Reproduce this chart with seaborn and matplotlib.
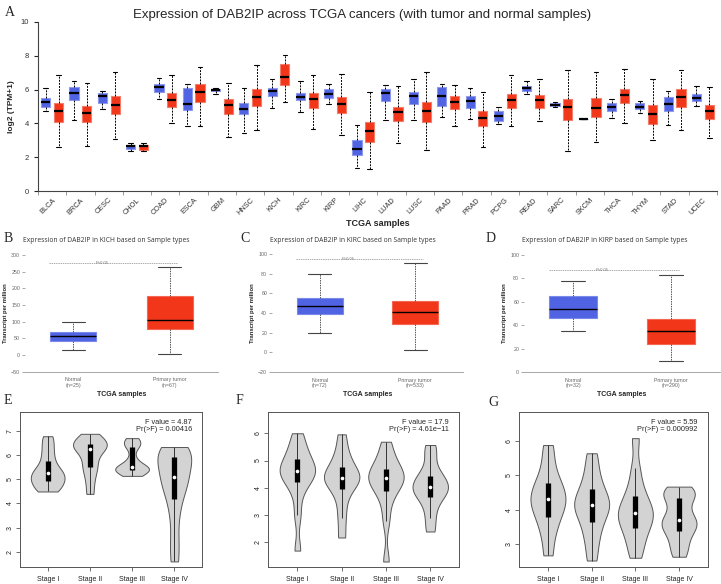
import numpy as np
import pandas as pd
import matplotlib.pyplot as plt
import seaborn as sns

# ---------------- Panel A data: [min, q1, median, q3, max] (log2 TPM+1)
cancers = ["BLCA", "BRCA", "CESC", "CHOL", "COAD", "ESCA", "GBM", "HNSC",
           "KICH", "KIRC", "KIRP", "LIHC", "LUAD", "LUSC", "PAAD", "PRAD",
           "PCPG", "READ", "SARC", "SKCM", "THCA", "THYM", "STAD", "UCEC"]
normal_stats = [
    [4.71, 4.97, 5.27, 5.52, 6.09], [4.22, 5.36, 5.82, 6.15, 6.53],
    [4.87, 5.23, 5.62, 5.80, 5.92], [2.35, 2.47, 2.68, 2.74, 2.84],
    [5.46, 5.86, 6.15, 6.35, 6.67], [3.83, 4.77, 5.13, 6.11, 6.31],
    [5.76, 5.90, 5.96, 6.02, 6.09], [3.43, 4.58, 4.85, 5.19, 6.09],
    [4.89, 5.62, 5.90, 6.09, 6.63], [4.65, 5.36, 5.58, 5.82, 6.51],
    [5.17, 5.52, 5.76, 6.06, 6.33], [1.38, 2.13, 2.50, 3.00, 3.89],
    [4.18, 5.35, 5.80, 6.02, 6.29], [4.22, 5.17, 5.60, 5.86, 6.65],
    [4.40, 5.03, 5.64, 6.13, 6.31], [4.24, 4.93, 5.33, 5.64, 6.09],
    [3.98, 4.14, 4.42, 4.73, 4.97], [5.74, 5.92, 6.07, 6.19, 6.51],
    [4.97, 5.03, 5.11, 5.21, 5.25], [4.24, 4.25, 4.26, 4.27, 4.28],
    [4.30, 4.71, 4.99, 5.21, 5.46], [4.64, 4.83, 4.99, 5.19, 5.35],
    [3.89, 4.71, 5.17, 5.58, 5.94], [5.01, 5.33, 5.50, 5.74, 6.23],
]
tumor_stats = [
    [2.60, 4.10, 4.73, 5.21, 6.84], [2.64, 4.10, 4.62, 5.05, 6.41],
    [3.10, 4.58, 5.11, 5.64, 7.04], [2.35, 2.45, 2.64, 2.74, 2.84],
    [4.04, 4.97, 5.38, 5.80, 6.88], [3.87, 5.25, 5.88, 6.31, 7.36],
    [3.18, 4.58, 5.07, 5.44, 6.41], [3.63, 5.01, 5.56, 6.06, 7.48],
    [5.27, 6.27, 6.75, 7.50, 8.03], [3.69, 4.91, 5.42, 5.80, 6.88],
    [3.33, 4.62, 5.17, 5.58, 6.94], [1.28, 2.90, 3.55, 4.08, 5.86],
    [2.82, 4.14, 4.65, 4.99, 6.23], [2.41, 4.08, 4.73, 5.27, 7.02],
    [3.87, 4.85, 5.27, 5.60, 6.29], [2.62, 3.87, 4.32, 4.71, 5.86],
    [3.83, 4.93, 5.38, 5.74, 6.88], [4.12, 4.91, 5.38, 5.70, 6.65],
    [2.35, 4.18, 4.99, 5.46, 7.18], [2.90, 4.38, 4.93, 5.52, 7.02],
    [4.04, 5.23, 5.66, 6.02, 7.24], [3.04, 3.98, 4.56, 5.09, 6.65],
    [3.59, 4.99, 5.56, 6.02, 7.18], [3.14, 4.28, 4.75, 5.07, 6.17],
]

# ---------------- Panels B-D data: [min, q1, median, q3, max] (TPM)
kich_normal = [16, 43, 57, 68, 98]
kich_tumor = [4, 77, 104, 177, 264]
kirc_normal = [19.3, 38.6, 47.1, 55.6, 80]
kirc_tumor = [2.0, 29.2, 40.7, 52.5, 90.4]
kirp_normal = [35.3, 45.9, 53.6, 65.0, 77.8]
kirp_tumor = [9.4, 23.6, 34.8, 45.3, 83.0]
sample_labels = {
    "KICH": ["Normal\n(n=25)", "Primary tumor\n(n=67)"],
    "KIRC": ["Normal\n(n=72)", "Primary tumor\n(n=533)"],
    "KIRP": ["Normal\n(n=32)", "Primary tumor\n(n=290)"],
}

# ---------------- Panels E-G data: expression by stage
stages = ["Stage I", "Stage II", "Stage III", "Stage IV"]
kich_stage = [
    [4.5, 4.6, 4.75, 4.94, 5.0, 5.1, 5.26, 5.35, 5.5, 5.78, 6.1, 6.45, 6.8],
    [4.4, 4.9, 5.3, 5.53, 5.8, 6.05, 6.26, 6.35, 6.42, 6.48, 6.6, 6.75, 6.9],
    [5.15, 5.25, 5.33, 5.4, 5.45, 5.5, 5.53, 5.6, 5.9, 6.34, 6.45, 6.6, 6.72],
    [1.59, 2.5, 3.5, 4.2, 4.6, 4.9, 5.12, 5.4, 5.7, 5.95, 6.1, 6.25, 6.35],
]
kirc_stage = [
    [1.7, 3.0, 3.8, 4.23, 4.4, 4.5, 4.62, 4.7, 4.85, 5.06, 5.3, 5.6, 6.0],
    [2.18, 2.9, 3.5, 3.95, 4.15, 4.27, 4.37, 4.45, 4.6, 4.78, 5.05, 5.4, 5.96],
    [1.3, 2.8, 3.5, 3.9, 4.1, 4.25, 4.35, 4.45, 4.55, 4.69, 4.95, 5.25, 5.69],
    [2.4, 2.9, 3.35, 3.65, 3.8, 3.92, 4.02, 4.15, 4.3, 4.44, 4.7, 5.2, 5.57],
]
kirp_stage = [
    [2.67, 3.2, 3.55, 3.8, 4.0, 4.15, 4.3, 4.42, 4.6, 4.77, 5.0, 5.4, 5.88],
    [2.52, 3.0, 3.35, 3.63, 3.85, 4.0, 4.14, 4.25, 4.4, 4.6, 4.85, 5.2, 5.64],
    [2.6, 2.95, 3.25, 3.47, 3.65, 3.8, 3.9, 4.0, 4.2, 4.4, 4.7, 5.2, 6.08],
    [2.63, 2.9, 3.15, 3.37, 3.5, 3.6, 3.71, 3.85, 4.1, 4.35, 4.45, 4.55, 4.67],
]
f_text = ["F value = 4.87\nPr(>F) = 0.00416",
          "F value = 17.9\nPr(>F) = 4.61e\u221211",
          "F value = 5.59\nPr(>F) = 0.000992"]

BLUE = "#4f63e3"
RED = "#f1361a"

sns.set_style("ticks")
plt.rcParams["font.family"] = ["Liberation Sans", "DejaVu Sans"]

fig = plt.figure(figsize=(7.21, 5.84), dpi=100)
W, H = 721, 584


def add_ax(x0, y0, x1, y1):
    return fig.add_axes([x0 / W, 1 - y1 / H, (x1 - x0) / W, (y1 - y0) / H])


def lighten(c, f=0.35):
    c = np.array(c[:3])
    return tuple(c + (1 - c) * f)


# ---------------- Panel A
rows = []
for c, ns, ts in zip(cancers, normal_stats, tumor_stats):
    rows += [(c, "Normal", v) for v in ns]
    rows += [(c, "Tumor", v) for v in ts]
df_a = pd.DataFrame(rows, columns=["cancer", "type", "value"])

ax = add_ax(38, 22, 717, 191)
sns.boxplot(data=df_a, x="cancer", y="value", hue="type", order=cancers,
            hue_order=["Normal", "Tumor"], palette=[BLUE, RED],
            width=0.9, gap=0.28, whis=(0, 100), saturation=1,
            linecolor="black", linewidth=0.8, showfliers=False,
            whiskerprops=dict(linestyle=(0, (2, 1.2)), linewidth=0.7),
            medianprops=dict(linewidth=1.6), legend=False, ax=ax)
for p in ax.patches:
    p.set_edgecolor(lighten(p.get_facecolor()))
ax.set_xlim(-0.5, len(cancers) - 0.5)
ax.set_ylim(0, 10)
ax.set_yticks([0, 2, 4, 6, 8, 10])
ax.set_xticks(np.arange(len(cancers) + 1) - 0.5, minor=True)
ax.tick_params(axis="x", which="major", length=0, labelsize=5.3,
               labelcolor="#333333", pad=4)
ax.tick_params(axis="x", which="minor", length=3, color="#888888")
ax.tick_params(axis="y", length=3, labelsize=5.5, labelcolor="#333333")
for lab in ax.get_xticklabels():
    lab.set_rotation(45)
    lab.set_ha("right")
    lab.set_rotation_mode("anchor")
ax.set_xlabel("TCGA samples", fontsize=6.5, fontweight="bold", labelpad=2)
ax.set_ylabel("log2 (TPM+1)", fontsize=6, fontweight="bold", labelpad=4)
for s in ["left", "bottom"]:
    ax.spines[s].set_color("#444444")
    ax.spines[s].set_linewidth(0.8)
sns.despine(ax=ax)
fig.text(0.502, 1 - 15 / H, "Expression of DAB2IP across TCGA cancers "
         "(with tumor and normal samples)", ha="center", va="center",
         fontsize=9.5)
fig.text(5 / W, 1 - 13 / H, "A", family="Liberation Serif", fontsize=10,
         va="center")

# ---------------- Panels B-D
panels_bd = [
    ("B", "KICH", kich_normal, kich_tumor, (25, 255, 218, 371.7), (-50, 300),
     np.arange(-50, 301, 50), 275, (4, 239)),
    ("C", "KIRC", kirc_normal, kirc_tumor, (272, 254, 463, 372), (-20, 100),
     np.arange(-20, 101, 20), 94.5, (240, 239)),
    ("D", "KIRP", kirp_normal, kirp_tumor, (524, 255, 720, 372), (0, 100),
     np.arange(0, 101, 20), 87, (486, 239)),
]
for letter, code, nvals, tvals, box, ylim, yt, sig_y, lpos in panels_bd:
    df = pd.DataFrame({"type": ["Normal"] * 5 + ["Tumor"] * 5,
                       "value": nvals + tvals})
    ax = add_ax(*box)
    sns.boxplot(data=df, x="type", y="value", hue="type",
                palette=[BLUE, RED], width=0.48, whis=(0, 100),
                saturation=1, linecolor="#222222", linewidth=0.8,
                showfliers=False,
                whiskerprops=dict(linestyle=(0, (1.5, 1)), color="#555555",
                                  linewidth=0.7),
                capprops=dict(color="#444444", linewidth=0.8),
                medianprops=dict(color="black", linewidth=1.0),
                legend=False, ax=ax)
    for p in ax.patches:
        p.set_edgecolor(lighten(p.get_facecolor(), 0.25))
    ax.set_xlim(-0.5, 1.5)
    ax.set_ylim(*ylim)
    ax.set_yticks(yt)
    ax.set_xticks([0, 1])
    ax.set_xticklabels(sample_labels[code])
    ax.tick_params(axis="x", length=0, labelsize=3.8, labelcolor="#666666",
                   pad=4)
    ax.tick_params(axis="y", length=2, width=0.5, color="#888888",
                   labelsize=3.8, labelcolor="#666666", pad=1.5)
    ax.plot([-0.25, 1.08], [sig_y, sig_y], ls=(0, (2, 1.2)), lw=0.5,
            color="#888888")
    ax.text(0.3, sig_y, "P<0.05", fontsize=3, color="#777777",
            ha="center", va="center")
    ax.set_xlabel("TCGA samples", fontsize=5, fontweight="bold", labelpad=2)
    ax.set_ylabel("Transcript per million", fontsize=4.2, fontweight="bold",
                  labelpad=2)
    sns.despine(ax=ax, left=True)
    ax.spines["bottom"].set_color("#999999")
    ax.spines["bottom"].set_linewidth(0.6)
    ax.set_title(f"Expression of DAB2IP in {code} based on Sample types",
                 family=["Open Sans", "DejaVu Sans"], fontsize=4.9,
                 loc="left", x=-0.012, pad=9, color="#333333")
    fig.text(lpos[0] / W, 1 - lpos[1] / H, letter, family="Liberation Serif",
             fontsize=10, va="center")

# ---------------- Panels E-G
panels_eg = [
    ("E", kich_stage, (20, 411.7, 202, 566.7), (1.37, 7.82), range(2, 8),
     f_text[0], (4, 400)),
    ("F", kirc_stage, (268.3, 411.7, 459.3, 566.7), (1.11, 6.79),
     range(2, 7), f_text[1], (236, 400)),
    ("G", kirp_stage, (519.3, 411.7, 707.7, 566.7), (2.34, 6.85),
     range(3, 7), f_text[2], (488, 403)),
]
for letter, samples, box, ylim, yt, ftxt, lpos in panels_eg:
    df = pd.DataFrame({"stage": np.repeat(stages, [len(s) for s in samples]),
                       "value": np.concatenate(samples)})
    ax = add_ax(*box)
    sns.violinplot(data=df, x="stage", y="value", order=stages,
                   color="#d3d3d3", saturation=1, inner=None, cut=0,
                   density_norm="width", width=0.8, bw_adjust=0.6,
                   linecolor="#555555", linewidth=0.7, ax=ax)
    for i, s in enumerate(samples):
        q1, med, q3 = np.percentile(s, [25, 50, 75])
        iqr = q3 - q1
        lo = min(v for v in s if v >= q1 - 1.5 * iqr)
        hi = max(v for v in s if v <= q3 + 1.5 * iqr)
        ax.vlines(i, lo, hi, color="#333333", lw=0.7, zorder=3)
        ax.vlines(i, q1, q3, color="black", lw=3.8, zorder=3)
        ax.scatter([i], [med], s=7, color="white", zorder=4, linewidths=0)
    ax.set_xlim(-0.656, 3.656)
    ax.set_ylim(*ylim)
    ax.set_yticks(list(yt))
    ax.set_xlabel("")
    ax.set_ylabel("")
    ax.tick_params(axis="both", length=3, width=0.6, color="#555555",
                   labelsize=5, labelcolor="#222222")
    ax.tick_params(axis="y", pad=1.5)
    for lab in ax.get_yticklabels():
        lab.set_rotation(90)
        lab.set_va("center")
    for s in ax.spines.values():
        s.set_color("#555555")
        s.set_linewidth(0.7)
    ax.text(0.945, 0.955, ftxt, transform=ax.transAxes, ha="right",
            va="top", fontsize=5.3, linespacing=1.15)
    fig.text(lpos[0] / W, 1 - lpos[1] / H, letter, family="Liberation Serif",
             fontsize=10, va="center")

fig.savefig("out.png", dpi=100)
